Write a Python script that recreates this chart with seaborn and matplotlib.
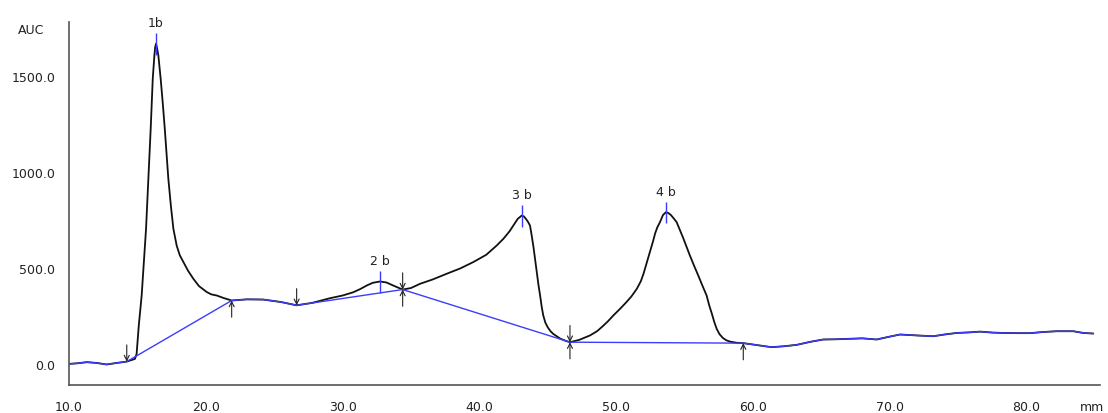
import matplotlib
matplotlib.use("Agg")
import matplotlib.pyplot as plt
import seaborn as sns
import numpy as np
import pandas as pd

# trace (mm, AUC)
trace_x = [10.0, 10.6, 11.3, 12.0, 12.75, 13.5, 14.22, 14.82, 14.94, 15.1, 15.31, 15.47, 15.63, 15.8, 15.97,
           16.12, 16.24, 16.3, 16.36, 16.42, 16.53, 16.7, 16.85, 17.0, 17.13, 17.26, 17.45, 17.63, 17.87,
           18.1, 18.36, 18.7, 19.09, 19.5, 20.07, 20.4, 20.8, 21.3, 21.89,
           23.0, 24.2, 25.5, 26.64, 27.8, 29.08, 30.0, 30.78, 31.3, 31.76, 32.2, 32.73, 33.2, 33.7, 34.39,
           35.0, 35.66, 36.6, 37.6, 38.6, 39.55, 40.5, 41.26, 41.75, 42.2, 42.48, 42.8, 43.09, 43.25, 43.4,
           43.55, 43.7, 43.82, 43.95, 44.07, 44.19, 44.32, 44.45, 44.56, 44.67, 44.82, 45.0, 45.2, 45.4,
           45.9, 46.3, 46.62,
           47.3, 48.08, 48.6, 49.0, 49.4, 49.79, 50.3, 50.7, 51.1, 51.5, 51.8, 52.0, 52.25, 52.47, 52.7,
           52.85, 53.0, 53.2, 53.42, 53.64, 53.82, 54.0, 54.2, 54.42, 54.9, 55.39, 55.7, 56.0, 56.3, 56.61,
           56.8, 57.0, 57.17, 57.35, 57.55, 57.8, 58.05, 58.32, 58.8, 59.29,
           60.3, 61.36, 62.3, 63.19, 64.2, 65.14, 66.0, 66.85, 68.0, 69.04, 70.0, 70.75, 72.0, 73.18,
           74.0, 74.89, 75.8, 76.6, 77.5, 78.3, 79.3, 80.25, 81.2, 82.2, 83.42, 84.15, 84.88]
trace_y = [0, 3, 9, 5, -3, 5, 12, 26, 52, 200, 356, 530, 703, 964, 1224,
           1484, 1606, 1650, 1667, 1650, 1606, 1484, 1360, 1224, 1090, 964, 820, 703, 616,
           565, 530, 485, 443, 405, 374, 362, 356, 343, 330,
           336, 335, 322, 305, 318, 342, 356, 373, 390, 408, 422, 429, 424, 408, 387,
           395, 417, 440, 469, 497, 530, 568, 616, 651, 690, 720, 755, 772, 768, 755,
           740, 720, 670, 610, 545, 477, 410, 350, 295, 252, 215, 190, 170, 156,
           132, 120, 113,
           125, 148, 170, 195, 222, 252, 288, 318, 350, 390, 430, 470, 530, 582, 640,
           680, 710, 738, 775, 790, 785, 775, 758, 738, 655, 564, 510, 460, 408, 356,
           305, 260, 218, 182, 155, 135, 123, 116, 110, 108,
           98, 87, 92, 99, 115, 127, 128, 130, 133, 127, 142, 153, 148, 144,
           153, 161, 164, 168, 163, 161, 160, 160, 166, 170, 170, 161, 158]

# peak boundaries (baseline drop points)
bound_x = [14.22, 21.89, 26.64, 34.39, 46.62, 59.29]
down_marks = [14.22, 26.64, 34.39, 46.62]
up_marks = [21.89, 34.39, 46.62, 59.29]

peak_x = [16.36, 32.73, 43.09, 53.64]
peak_names = ["1b", "2 b", "3 b", "4 b"]

df = pd.DataFrame({"mm": trace_x, "AUC": trace_y})
lookup = dict(zip(trace_x, trace_y))

# baseline: follows the trace on flat parts, straight lines between boundaries
x_arr = np.array(trace_x)
keep = (x_arr <= bound_x[0]) | ((x_arr >= bound_x[1]) & (x_arr <= bound_x[2])) | (x_arr >= bound_x[-1])
keep |= np.isin(x_arr, bound_x)
base = df[keep]

sns.set_style("white")
plt.rcParams["font.family"] = ["DejaVu Sans"]

fig = plt.figure(figsize=(11.08, 4.14), dpi=100)
ax = fig.add_axes([0.0623, 0.0676, 0.9305, 0.8768])

sns.lineplot(data=df, x="mm", y="AUC", ax=ax, color="#111111", lw=1.3,
             estimator=None, sort=False)
sns.lineplot(data=base, x="mm", y="AUC", ax=ax, color="#3c3cff", lw=1.0,
             estimator=None, sort=False)

arrow_kw = dict(arrowstyle="->", color="#222222", lw=0.8, shrinkA=0, shrinkB=0, mutation_scale=9)
for xv in down_marks:
    ax.annotate("", xy=(xv, lookup[xv]), xytext=(0, 12), textcoords="offset points",
                arrowprops=arrow_kw)
for xv in up_marks:
    ax.annotate("", xy=(xv, lookup[xv]), xytext=(0, -12), textcoords="offset points",
                arrowprops=arrow_kw)

for xv, name in zip(peak_x, peak_names):
    yv = lookup[xv]
    ax.vlines(xv, yv - 58, yv + 55, color="#3c3cff", lw=1.0)
    ax.annotate(name, xy=(xv, yv), xytext=(0, 15), textcoords="offset points",
                ha="center", va="center", fontsize=9, color="#222222", annotation_clip=False)

ax.set_xlim(10, 85.37)
ax.set_ylim(-110, 1780)
ax.set_xticks([10, 20, 30, 40, 50, 60, 70, 80])
ax.set_yticks([0, 500, 1000, 1500])
ax.xaxis.set_major_formatter(matplotlib.ticker.FormatStrFormatter("%.1f"))
ax.yaxis.set_major_formatter(matplotlib.ticker.FormatStrFormatter("%.1f"))
ax.set_xlabel("")
ax.set_ylabel("")
ax.tick_params(axis="both", direction="out", length=8, width=1, color="#555555",
               labelsize=9, labelcolor="#222222", pad=2)
ax.tick_params(axis="x", pad=3)
sns.despine(ax=ax)
for side in ["left", "bottom"]:
    ax.spines[side].set_color("#555555")
    ax.spines[side].set_linewidth(1.2)

ax.annotate("AUC", xy=(-0.037, 0.98), xycoords="axes fraction", ha="center", va="center",
            fontsize=9, color="#222222")
ax.annotate("mm", xy=(0.992, -0.06), xycoords="axes fraction", ha="center", va="center",
            fontsize=9, color="#222222", annotation_clip=False)

fig.savefig("out.png", dpi=100)
